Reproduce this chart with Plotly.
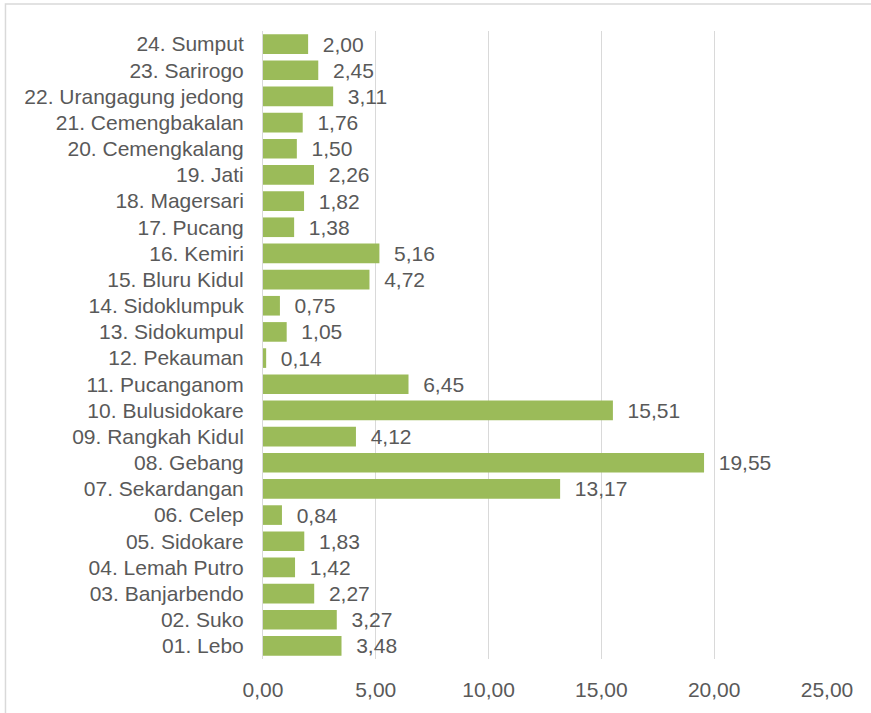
import plotly.graph_objects as go

# urutan dari bawah ke atas (01 di bawah)
desa = [
    "01. Lebo", "02. Suko", "03. Banjarbendo", "04. Lemah Putro", "05. Sidokare",
    "06. Celep", "07. Sekardangan", "08. Gebang", "09. Rangkah Kidul",
    "10. Bulusidokare", "11. Pucanganom", "12. Pekauman", "13. Sidokumpul",
    "14. Sidoklumpuk", "15. Bluru Kidul", "16. Kemiri", "17. Pucang",
    "18. Magersari", "19. Jati", "20. Cemengkalang", "21. Cemengbakalan",
    "22. Urangagung jedong", "23. Sarirogo", "24. Sumput",
]
nilai = [
    3.48, 3.27, 2.27, 1.42, 1.83, 0.84, 13.17, 19.55, 4.12, 15.51, 6.45, 0.14,
    1.05, 0.75, 4.72, 5.16, 1.38, 1.82, 2.26, 1.50, 1.76, 3.11, 2.45, 2.00,
]
x_ticks = [0, 5, 10, 15, 20, 25]

TEXT_COLOR = "#595959"
GRID_COLOR = "#D9D9D9"
FONT = "Liberation Sans, Arial, sans-serif"
FONT_SIZE = 21

fig = go.Figure()
fig.add_trace(go.Bar(
    y=desa,
    x=nilai,
    orientation="h",
    marker=dict(color="#9BBB59", line=dict(width=0)),
    texttemplate="  %{x:.2f}",
    textposition="outside",
    constraintext="none",
    textfont=dict(family=FONT, size=FONT_SIZE, color=TEXT_COLOR),
    cliponaxis=False,
))

fig.update_xaxes(
    range=[0, 25],
    tickvals=x_ticks,
    tickformat=".2f",
    showgrid=True,
    gridcolor=GRID_COLOR,
    gridwidth=1,
    zeroline=False,
    ticks="outside",
    ticklen=12,
    tickcolor="white",
    tickfont=dict(family=FONT, size=FONT_SIZE, color=TEXT_COLOR),
)
fig.update_yaxes(
    categoryorder="array",
    categoryarray=desa,
    showline=True,
    linecolor=GRID_COLOR,
    linewidth=1,
    ticks="outside",
    ticklen=14,
    tickcolor="white",
    tickfont=dict(family=FONT, size=FONT_SIZE, color=TEXT_COLOR),
)

# bingkai grafik (kanan dan bawah terpotong di luar gambar)
fig.add_shape(
    type="rect", xref="paper", yref="paper",
    x0=-0.4566, x1=1.3, y0=-0.3, y1=1.043,
    line=dict(color=GRID_COLOR, width=1.5),
)

fig.update_layout(
    width=871,
    height=713,
    margin=dict(l=263, r=44, t=31, b=51),
    separators=",.",
    bargap=0.25,
    showlegend=False,
    plot_bgcolor="white",
    paper_bgcolor="white",
)

# hilangkan margin bawaan halaman supaya grafik pas di jendela
fig.write_html(
    "out.html",
    config={"displayModeBar": False},
    post_script="document.body.style.margin='0';document.body.style.overflow='hidden';",
)
